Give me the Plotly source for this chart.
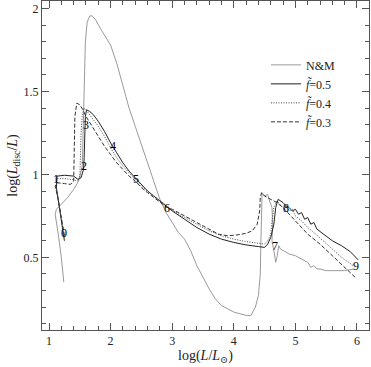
import plotly.graph_objects as go

# N&M track
nm_x = [1.24, 1.20, 1.15, 1.10, 1.12, 1.20, 1.30, 1.40, 1.48, 1.54, 1.555, 1.57, 1.59, 1.62, 1.66, 1.70,
        1.76, 1.85, 2.00, 2.10, 2.20, 2.30, 2.40, 2.50, 2.60, 2.70, 2.80, 2.90, 3.00, 3.10, 3.20, 3.30,
        3.40, 3.50, 3.60, 3.70, 3.80, 3.90, 4.00, 4.10, 4.20, 4.28, 4.35, 4.40, 4.43, 4.44, 4.45, 4.46,
        4.50, 4.55, 4.58, 4.62, 4.63, 4.62, 4.66, 4.68, 4.70, 4.73, 4.76, 4.80, 4.90, 5.00, 5.10, 5.20,
        5.25, 5.30, 5.35, 5.40, 5.50, 5.60, 5.70, 5.80, 5.95]
nm_y = [0.35, 0.50, 0.64, 0.76, 0.79, 0.82, 0.86, 0.91, 0.96, 1.05, 1.30, 1.60, 1.80, 1.92, 1.955, 1.957,
        1.93, 1.87, 1.78, 1.67, 1.53, 1.40, 1.29, 1.18, 1.06, 0.95, 0.85, 0.77, 0.71, 0.65, 0.61, 0.54,
        0.45, 0.38, 0.31, 0.25, 0.21, 0.19, 0.17, 0.16, 0.15, 0.15, 0.20, 0.27, 0.40, 0.60, 0.75, 0.89,
        0.87, 0.88, 0.84, 0.80, 0.70, 0.60, 0.52, 0.47, 0.50, 0.57, 0.55, 0.54, 0.52, 0.51, 0.49, 0.47,
        0.44, 0.45, 0.43, 0.43, 0.42, 0.42, 0.42, 0.42, 0.43]

# f = 0.5
f5_x = [1.25, 1.21, 1.16, 1.12, 1.13, 1.25, 1.40, 1.47, 1.52, 1.56, 1.57, 1.58, 1.59, 1.61, 1.66, 1.72,
        1.80, 1.90, 2.00, 2.10, 2.20, 2.30, 2.40, 2.50, 2.60, 2.70, 2.80, 2.90, 3.00, 3.20, 3.40, 3.60,
        3.80, 4.00, 4.20, 4.40, 4.50, 4.55, 4.60, 4.65, 4.68, 4.72, 4.80, 4.85, 4.90, 4.95, 5.00, 5.05,
        5.10, 5.15, 5.20, 5.25, 5.30, 5.35, 5.45, 5.60, 5.75, 5.89, 6.02]
f5_y = [0.60, 0.70, 0.82, 0.92, 0.99, 0.995, 0.99, 0.97, 0.98, 1.03, 1.10, 1.25, 1.35, 1.39, 1.38, 1.36,
        1.32, 1.26, 1.19, 1.13, 1.07, 1.02, 0.98, 0.94, 0.90, 0.87, 0.84, 0.81, 0.78, 0.73, 0.68, 0.64,
        0.61, 0.59, 0.575, 0.565, 0.56, 0.58, 0.62, 0.70, 0.80, 0.85, 0.83, 0.81, 0.80, 0.78, 0.79, 0.76,
        0.77, 0.73, 0.74, 0.70, 0.71, 0.67, 0.64, 0.60, 0.57, 0.535, 0.485]

# f = 0.4
f4_x = [1.25, 1.20, 1.15, 1.11, 1.13, 1.25, 1.38, 1.46, 1.50, 1.51, 1.52, 1.54, 1.57, 1.62, 1.70, 1.80,
        1.90, 2.00, 2.10, 2.20, 2.30, 2.40, 2.50, 2.60, 2.70, 2.80, 2.90, 3.00, 3.20, 3.40, 3.60, 3.80,
        4.00, 4.20, 4.40, 4.50, 4.55, 4.60, 4.62, 4.65, 4.70, 4.75, 4.80, 4.85, 4.90, 4.95, 5.00, 5.10,
        5.20, 5.30, 5.45, 5.60, 5.75, 5.94]
f4_y = [0.62, 0.72, 0.84, 0.93, 0.975, 0.975, 0.97, 0.96, 0.98, 1.10, 1.25, 1.36, 1.40, 1.38, 1.34, 1.29,
        1.23, 1.16, 1.10, 1.05, 1.01, 0.97, 0.93, 0.90, 0.87, 0.84, 0.81, 0.785, 0.74, 0.70, 0.66, 0.63,
        0.61, 0.595, 0.585, 0.58, 0.60, 0.64, 0.72, 0.80, 0.84, 0.82, 0.80, 0.81, 0.78, 0.79, 0.75, 0.72,
        0.68, 0.65, 0.60, 0.55, 0.50, 0.45]

# f = 0.3
f3_x = [1.25, 1.20, 1.15, 1.10, 1.13, 1.25, 1.35, 1.40, 1.41, 1.42, 1.45, 1.50, 1.55, 1.60, 1.70, 1.80,
        1.90, 2.00, 2.10, 2.20, 2.30, 2.40, 2.50, 2.60, 2.70, 2.80, 2.90, 3.00, 3.20, 3.40, 3.60, 3.75,
        3.90, 4.05, 4.20, 4.30, 4.38, 4.42, 4.43, 4.45, 4.50, 4.55, 4.60, 4.65, 4.70, 4.80, 4.90, 5.00,
        5.07, 5.20, 5.40, 5.60, 5.80, 5.97]
f3_y = [0.63, 0.74, 0.85, 0.93, 0.95, 0.945, 0.94, 0.96, 1.10, 1.35, 1.43, 1.42, 1.39, 1.35, 1.29, 1.23,
        1.17, 1.12, 1.07, 1.03, 0.99, 0.96, 0.92, 0.89, 0.86, 0.83, 0.805, 0.79, 0.75, 0.71, 0.67, 0.64,
        0.63, 0.635, 0.645, 0.66, 0.70, 0.78, 0.86, 0.89, 0.87, 0.86, 0.85, 0.84, 0.83, 0.80, 0.76, 0.72,
        0.69, 0.64, 0.58, 0.51, 0.44, 0.38]

# time labels along the tracks
lab_text = ["0", "1", "2", "3", "4", "5", "6", "7", "8", "9"]
lab_x = [1.24, 1.12, 1.57, 1.60, 2.04, 2.42, 2.91, 4.67, 4.85, 5.98]
lab_y = [0.645, 0.975, 1.05, 1.30, 1.17, 0.975, 0.80, 0.57, 0.80, 0.45]

serif = "Liberation Serif, DejaVu Serif, serif"
ink = "black"

fig = go.Figure()
fig.add_trace(go.Scatter(x=nm_x, y=nm_y, mode="lines", name="N&M",
                         line=dict(color="#9a9a9a", width=1)))
fig.add_trace(go.Scatter(x=f5_x, y=f5_y, mode="lines", name="<i>f̃</i>=0.5",
                         line=dict(color="#222", width=1)))
fig.add_trace(go.Scatter(x=f4_x, y=f4_y, mode="lines", name="<i>f̃</i>=0.4",
                         line=dict(color="#444", width=1, dash="1px,1.5px")))
fig.add_trace(go.Scatter(x=f3_x, y=f3_y, mode="lines", name="<i>f̃</i>=0.3",
                         line=dict(color="#333", width=1, dash="4px,2px")))

# number labels on the tracks
for t, x, y in zip(lab_text, lab_x, lab_y):
    fig.add_annotation(x=x, y=y, text=t, showarrow=False,
                       font=dict(family=serif, size=12, color=ink))

axis_common = dict(showgrid=False, zeroline=False, showline=True, linecolor="#555", linewidth=1,
                   mirror="allticks", ticks="inside", ticklen=7, tickcolor="#555",
                   automargin=False,
                   tickfont=dict(family=serif, size=12, color="#222"))

fig.update_layout(
    width=371, height=367,
    margin=dict(l=42, r=2, t=1, b=37),
    plot_bgcolor="white", paper_bgcolor="white",
    xaxis=dict(range=[0.886, 6.195], dtick=1, tick0=1,
               minor=dict(ticks="inside", dtick=0.2, ticklen=4, tickcolor="#555"),
               title=dict(text="log(<i>L</i>/<i>L</i><sub>⊙</sub>)", standoff=2,
                          font=dict(family=serif, size=14, color="#222")),
               **axis_common),
    yaxis=dict(range=[0.062, 2.046], dtick=0.5, tick0=0,
               minor=dict(ticks="inside", dtick=0.1, ticklen=4, tickcolor="#555"),
               title=dict(text="log(<i>L</i><sub>disc</sub>/<i>L</i>)", standoff=2,
                          font=dict(family=serif, size=14, color="#222")),
               **axis_common),
    legend=dict(x=0.685, y=0.85, xanchor="left", yanchor="top", bgcolor="rgba(0,0,0,0)",
                font=dict(family=serif, size=12, color="#222"), itemwidth=30,
                tracegroupgap=0),
    showlegend=True,
)

fig.write_html("out.html", config={"displayModeBar": False},
               post_script="document.body.style.margin='0';")
